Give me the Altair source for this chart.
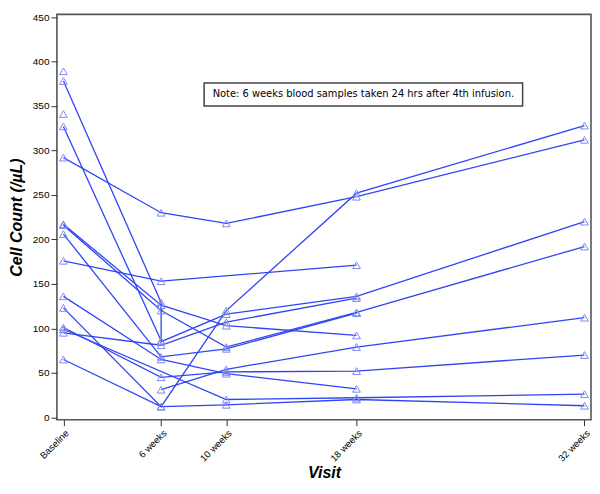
import altair as alt
import pandas as pd

# Subject trajectories (weeks, cell count /µL)
subj = ["S1"]*5 + ["S2"]*6 + ["S3"]*2 + ["S4"]*4 + ["S5"]*5 + ["S6"]*4 + ["S7"]*3 + ["S8"]*4 \
     + ["S9"]*5 + ["S10"]*5 + ["S11"]*4 + ["S12"]*4 + ["S13"]*5 + ["S14"] + ["S15"] + ["S16"]*4
weeks = [0, 6, 10, 18, 32,
         0, 6, 6, 10, 18, 32,
         0, 6,
         0, 6, 10, 18,
         0, 6, 10, 18, 32,
         0, 6, 10, 18,
         0, 6, 18,
         0, 6, 10, 18,
         0, 6, 10, 18, 32,
         0, 6, 10, 18, 32,
         0, 10, 18, 32,
         0, 6, 10, 18,
         0, 6, 10, 18, 32,
         0,
         0,
         6, 10, 18, 32]
counts = [292, 230, 218, 248, 312,
          378, 129, 85, 116, 136, 220,
          327, 86,
          217, 126, 103, 92,
          216, 120, 79, 118, 192,
          206, 68, 77, 117,
          176, 153, 171,
          136, 65, 49, 32,
          123, 12, 120, 252, 328,
          101, 45, 51, 52, 70,
          99, 20, 22, 26,
          95, 81, 107, 134,
          65, 12, 14, 20, 13,
          389,
          341,
          31, 54, 79, 112]

visit_ticks = [0, 6, 10, 18, 32]
y_ticks = [0, 50, 100, 150, 200, 250, 300, 350, 400, 450]
note_text = "Note: 6 weeks blood samples taken 24 hrs after 4th infusion."

df = pd.DataFrame({"subject": subj, "week": weeks, "count": counts})
df["seq"] = range(len(df))

xs = alt.Scale(domain=[-0.4, 32.4], nice=False, zero=False)
ys = alt.Scale(domain=[-2.7, 453], nice=False, zero=False)

x_axis = alt.Axis(values=visit_ticks, grid=False, domain=False,
                  labelExpr="datum.value == 0 ? 'Baseline' : datum.value + ' weeks'",
                  labelAngle=-45, labelFontSize=9.5, labelFont="Liberation Sans",
                  labelColor="black", tickColor="#333", tickSize=6,
                  title="Visit", titleFont="Liberation Sans", titleFontSize=16,
                  titleFontWeight="bold", titleFontStyle="italic", titleColor="black",
                  titlePadding=2)
y_axis = alt.Axis(values=y_ticks, grid=False, domain=False,
                  labelFontSize=10, labelFont="Liberation Sans", labelColor="black",
                  tickColor="#333", tickSize=6, labelPadding=2,
                  title="Cell Count (/µL)", titleFont="Liberation Sans", titleFontSize=16,
                  titleFontWeight="bold", titleFontStyle="italic", titleColor="black",
                  titlePadding=8)

base = alt.Chart(df)
lines = base.mark_line(color="#2f45f5", strokeWidth=1.3).encode(
    x=alt.X("week:Q", scale=xs, axis=x_axis),
    y=alt.Y("count:Q", scale=ys, axis=y_axis),
    detail="subject:N",
    order="seq:Q",
)
points = base.mark_point(shape="triangle-up", filled=False, size=60,
                         color="#7d88f2", strokeWidth=1, opacity=1).encode(
    x=alt.X("week:Q", scale=xs),
    y=alt.Y("count:Q", scale=ys),
)

note_df = pd.DataFrame({"x1": [8.64], "x2": [28.2], "y1": [350], "y2": [376],
                        "xc": [18.42], "yc": [363], "t": [note_text]})
box = alt.Chart(note_df).mark_rect(fill="white", stroke="#444", strokeWidth=1.5).encode(
    x=alt.X("x1:Q", scale=xs), x2="x2:Q",
    y=alt.Y("y1:Q", scale=ys), y2="y2:Q",
)
txt = alt.Chart(note_df).mark_text(font="DejaVu Sans", fontSize=9.9, color="black").encode(
    x=alt.X("xc:Q", scale=xs), y=alt.Y("yc:Q", scale=ys), text="t:N",
)

chart = alt.layer(lines, points, box, txt).properties(
    width=535, height=406,
    padding={"left": 0, "top": 3, "right": 0, "bottom": 0},
).configure_view(stroke="#555", strokeWidth=1.6)

chart.save("out.html", embed_options={"renderer": "svg", "actions": False})
